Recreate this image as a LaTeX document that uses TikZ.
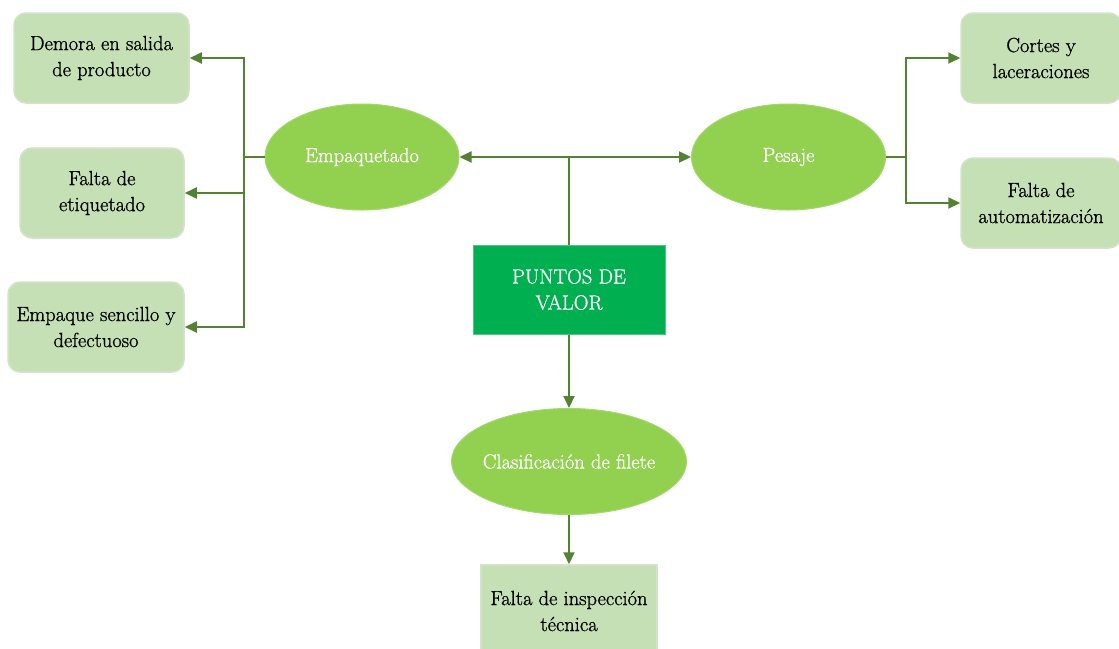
\documentclass[tikz,border=0pt]{standalone}
\usepackage{fontspec}
\newfontfamily\labelfont{Latin Modern Roman}[FakeBold=0.9]
\usetikzlibrary{shapes.geometric,arrows.meta}
\definecolor{linegreen}{HTML}{548235}
\definecolor{ellgreen}{HTML}{92D050}
\definecolor{boxgreen}{HTML}{C5E0B4}
\definecolor{boxedge}{HTML}{D3E3CB}
\definecolor{maingreen}{HTML}{00B050}
\tikzset{
  txt/.style={font=\labelfont\fontsize{20.5}{26}\selectfont, align=center, inner sep=0pt},
  issue/.style={txt, rectangle, rounded corners=12pt, fill=boxgreen, draw=boxedge, line width=1.5pt,
    minimum width=#1, minimum height=90pt},
  issue/.default=170pt,
  flatissue/.style={txt, rectangle, fill=boxgreen, draw=boxedge, line width=1.5pt,
    minimum width=176pt, minimum height=92pt},
  stage/.style={txt, ellipse, fill=ellgreen, draw=ellgreen!85!white, line width=1pt, text=white,
    inner xsep=-40pt, minimum width=#1, minimum height=106pt},
  stage/.default=194pt,
  core/.style={txt, rectangle, fill=maingreen, draw=maingreen!70!white, line width=1pt, text=white,
    minimum width=192pt, minimum height=89pt},
  link/.style={draw=linegreen, line width=2pt},
  arr/.style={link, -{Triangle[length=12pt,width=11pt]}},
  darr/.style={link, {Triangle[length=12pt,width=11pt]}-{Triangle[length=12pt,width=11pt]}},
}
\begin{document}
\begin{tikzpicture}[x=1pt,y=-1pt]
\useasboundingbox (0,0) rectangle (1119,648);
\fill[white] (0,0) rectangle (1119,648);

% central stages
\node[core] (pv) at (569,289.5) {PUNTOS DE\\VALOR};
\node[stage] (emp) at (362,157) {Empaquetado};
\node[stage] (pes) at (788.5,157) {Pesaje};
\node[stage=235pt] (cla) at (569,461.5) {Clasificación de filete};

% problems on the left
\node[issue=175pt] (dem) at (101.5,58) {Demora en salida\\de producto};
\node[issue=164pt] (eti) at (102,193) {Falta de\\etiquetado};
\node[issue=176pt] (emq) at (96,327) {Empaque sencillo y\\defectuoso};

% problems on the right
\node[issue=160pt] (cor) at (1041,58) {Cortes y\\laceraciones};
\node[issue=160pt] (aut) at (1041,203) {Falta de\\automatización};

% problem below
\node[flatissue] (ins) at (569,611) {Falta de inspección\\técnica};

% connectors
\draw[darr] (emp.east) -- (pes.west);
\draw[link] (pv.north) -- (pv.north |- emp.east);
\draw[arr] (pv.south) -- (cla.north);
\draw[arr] (cla.south) -- (ins.north);

\coordinate (lbus) at (244,157);
\draw[link] (emp.west) -- (lbus);
\draw[arr] (lbus) |- (dem.east);
\draw[arr] (lbus) |- (eti.east);
\draw[arr] (lbus) |- (emq.east);

\coordinate (rbus) at (906,157);
\draw[link] (pes.east) -- (rbus);
\draw[arr] (rbus) |- (cor.west);
\draw[arr] (rbus) |- (aut.west);
\end{tikzpicture}
\end{document}
